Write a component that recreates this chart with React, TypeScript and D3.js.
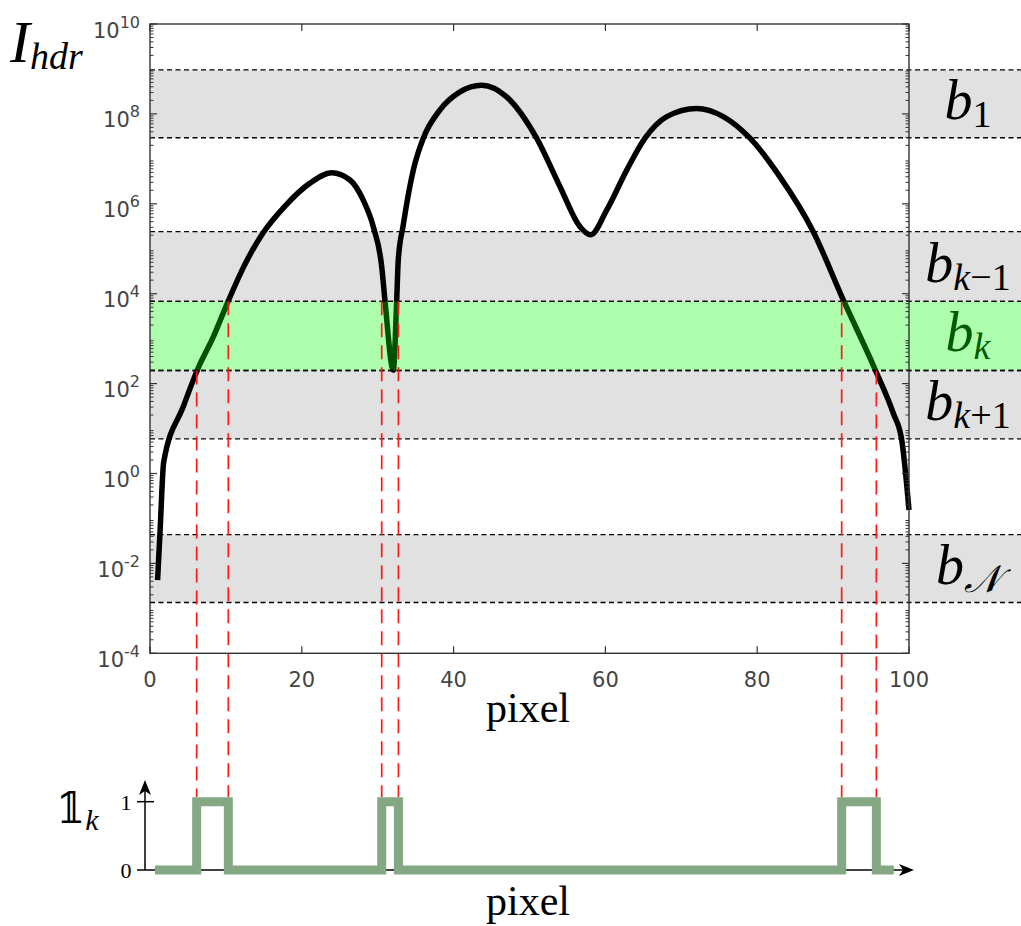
import React from "react";
import * as d3 from "d3";

// ---- data ----
const curveX = [1, 1.35, 1.8, 4.39, 6.28, 8.34, 10.32, 12.29, 14.93, 17.79, 21.08, 23.94, 26.35, 28.1, 29.42, 30.53, 30.96, 32.06, 32.5, 32.71, 33.37, 34.69, 36.01, 38.21, 40.84, 43.7, 46.99, 50.94, 54.02, 56.65, 58.06, 60.17, 62.81, 65.22, 68.08, 72.03, 75.53, 79.05, 83.0, 87.39, 91.34, 95.52, 97.93, 99.04, 100];
const curveExp = [-2.37, -1.2, 0.25, 1.49, 2.32, 3.04, 3.84, 4.58, 5.36, 5.95, 6.46, 6.69, 6.53, 6.08, 5.49, 4.6, 3.84, 2.3, 3.84, 4.75, 5.53, 6.75, 7.46, 8.09, 8.49, 8.64, 8.38, 7.46, 6.38, 5.49, 5.31, 5.86, 6.75, 7.46, 7.94, 8.12, 7.94, 7.46, 6.6, 5.38, 3.86, 2.32, 1.34, 0.75, -0.81];

const bandNames = ["b1", "bk-1", "bk", "bk+1", "bN"];
const bandTopExp = [8.98, 5.38, 3.83, 2.29, -1.36];
const bandBottomExp = [7.47, 3.83, 2.29, 0.77, -2.87];
const highlightBand = "bk";

const crossX = [6.15, 10.32, 30.53, 32.73, 91.13, 95.7];
const crossExp = [2.29, 3.83, 3.83, 3.83, 3.83, 2.29];

const indX = [0.66, 6.15, 10.32, 30.53, 32.73, 91.13, 95.7, 98.0];
const indY = [0, 1, 0, 1, 0, 1, 0, 0];

const xTicks = [0, 20, 40, 60, 80, 100];
const yTickExps = [-4, -2, 0, 2, 4, 6, 8, 10];

// ---- layout ----
const W = 1021, H = 926;
const L = 150, R = 909, T = 24, B = 653.3;

export default function App() {
  const x = d3.scaleLinear().domain([0, 100]).range([L, R]);
  const y = d3.scaleLog().domain([1e-4, 1e10]).range([B, T]);
  const yi = d3.scaleLinear().domain([0, 1]).range([870, 801.7]);

  const pts: [number, number][] = curveX.map((v, i) => [v, Math.pow(10, curveExp[i])]);
  const line = d3.line<[number, number]>().x(d => x(d[0])).y(d => y(d[1])).curve(d3.curveMonotoneX);
  const indPts: [number, number][] = indX.map((v, i) => [v, indY[i]]);
  const indLine = d3.line<[number, number]>().x(d => x(d[0])).y(d => yi(d[1])).curve(d3.curveStepAfter);

  const minor: number[] = [];
  for (let d = -4; d < 10; d++) for (let k = 2; k <= 9; k++) minor.push(k * Math.pow(10, d));

  const axisColor = "#333";
  const tickFont = "DejaVu Sans, sans-serif";
  const serif = "Liberation Serif, Times New Roman, Tinos, DejaVu Serif, serif";

  const bandRects = bandNames.map((n, i) => ({
    n,
    y0: y(Math.pow(10, bandTopExp[i])),
    y1: y(Math.pow(10, bandBottomExp[i])),
  }));

  const label = (n: string, cy: number) => {
    const base = cy + 15;
    const sub = (content: React.ReactNode) => (
      <tspan fontSize={38} dy={8}>{content}</tspan>
    );
    const fill = n === highlightBand ? "#005c00" : "#000";
    let subContent: React.ReactNode = null;
    if (n === "b1") subContent = sub(<tspan fontStyle="normal">1</tspan>);
    if (n === "bk-1") subContent = sub(<>k<tspan fontStyle="normal">−1</tspan></>);
    if (n === "bk") subContent = sub("k");
    if (n === "bk+1") subContent = sub(<>k<tspan fontStyle="normal">+1</tspan></>);
    if (n === "bN") subContent = sub("𝒩");
    return (
      <text key={n} x={968} y={base} textAnchor="middle" style={{ fontFamily: serif }} fontStyle="italic" fontSize={56} fill={fill}>
        b{subContent}
      </text>
    );
  };

  return (
    <svg width={W} height={H} style={{ position: "absolute", left: 0, top: 0, background: "#fff" }}>
      {bandRects.filter(b => b.n !== highlightBand).map(b => (
        <rect key={b.n} x={L} y={b.y0} width={W - L} height={b.y1 - b.y0} fill="#e1e1e1" />
      ))}
      <path d={line(pts) || ""} fill="none" stroke="#000" strokeWidth={5.5} strokeLinejoin="round" />
      {bandRects.filter(b => b.n === highlightBand).map(b => (
        <rect key={b.n} x={L} y={b.y0} width={W - L} height={b.y1 - b.y0} fill="rgb(0,255,0)" fillOpacity={0.32} />
      ))}
      {bandRects.map(b => (
        <g key={"d" + b.n}>
          <line x1={L} x2={W} y1={b.y0} y2={b.y0} stroke="#000" strokeWidth={1.4} strokeDasharray="5,3.5" />
          <line x1={L} x2={W} y1={b.y1} y2={b.y1} stroke="#000" strokeWidth={1.4} strokeDasharray="5,3.5" />
        </g>
      ))}
      {crossX.map((cx, i) => (
        <line key={"r" + i} x1={x(cx)} x2={x(cx)} y1={y(Math.pow(10, crossExp[i]))} y2={797} stroke="#ff1a1a" strokeWidth={1.7} strokeDasharray="14,8" />
      ))}
      <rect x={L} y={T} width={R - L} height={B - T} fill="none" stroke={axisColor} strokeWidth={1.4} />
      {yTickExps.map(e => {
        const yy = y(Math.pow(10, e));
        return (
          <g key={"yt" + e}>
            <line x1={L} x2={L + 7} y1={yy} y2={yy} stroke={axisColor} strokeWidth={1.2} />
            <line x1={R} x2={R - 7} y1={yy} y2={yy} stroke={axisColor} strokeWidth={1.2} />
            <text x={140} y={yy + 13.5} textAnchor="end" style={{ fontFamily: tickFont }} fontSize={21} fill="#444">
              10<tspan fontSize={16} dy={-10}>{String(e)}</tspan>
            </text>
          </g>
        );
      })}
      {minor.map((v, i) => {
        const yy = y(v);
        return (
          <g key={"ym" + i}>
            <line x1={L} x2={L + 3.5} y1={yy} y2={yy} stroke={axisColor} strokeWidth={1} />
            <line x1={R} x2={R - 3.5} y1={yy} y2={yy} stroke={axisColor} strokeWidth={1} />
          </g>
        );
      })}
      {xTicks.map(t => (
        <g key={"xt" + t}>
          <line x1={x(t)} x2={x(t)} y1={B} y2={B - 7} stroke={axisColor} strokeWidth={1.2} />
          <line x1={x(t)} x2={x(t)} y1={T} y2={T + 7} stroke={axisColor} strokeWidth={1.2} />
          <text x={x(t)} y={686.7} textAnchor="middle" style={{ fontFamily: tickFont }} fontSize={21} fill="#444">{t}</text>
        </g>
      ))}
      <text x={528} y={722} textAnchor="middle" style={{ fontFamily: serif }} fontSize={42}>pixel</text>
      <text x={10} y={62} style={{ fontFamily: serif }} fontStyle="italic" fontSize={60}>
        I<tspan fontSize={38} dy={7}>hdr</tspan>
      </text>
      {bandRects.map(b => label(b.n, (b.y0 + b.y1) / 2))}

      <line x1={137} x2={906} y1={870} y2={870} stroke="#000" strokeWidth={1.5} />
      <path d="M914,870 L899,864 L903,870 L899,876 Z" fill="#000" />
      <line x1={145} x2={145} y1={870} y2={788} stroke="#000" strokeWidth={1.5} />
      <path d="M145,780 L151,795 L145,791 L139,795 Z" fill="#000" />
      <line x1={137} x2={154} y1={yi(1)} y2={yi(1)} stroke="#000" strokeWidth={1.5} />
      <text x={126} y={yi(1) + 8} textAnchor="middle" style={{ fontFamily: serif }} fontSize={22}>1</text>
      <text x={126} y={yi(0) + 8} textAnchor="middle" style={{ fontFamily: serif }} fontSize={22}>0</text>
      <path d={indLine(indPts) || ""} fill="none" stroke="#83a883" strokeWidth={9} strokeLinejoin="miter" />
      <text x={56} y={823} style={{ fontFamily: serif }} fontSize={42}>𝟙<tspan fontStyle="italic" fontSize={30} dy={7}>k</tspan></text>
      <text x={528} y={915} textAnchor="middle" style={{ fontFamily: serif }} fontSize={42}>pixel</text>
    </svg>
  );
}
